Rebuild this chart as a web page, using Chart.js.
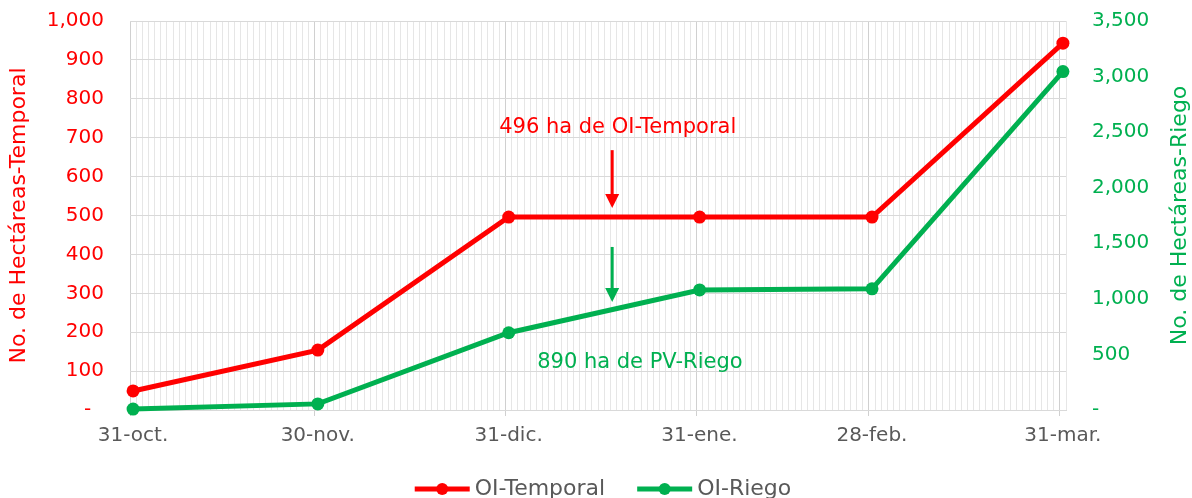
<!DOCTYPE html>
<html>
<head>
<meta charset="utf-8">
<script src="https://cdn.jsdelivr.net/npm/chart.js@4.4.0/dist/chart.umd.min.js"></script>
<style>
  html, body { margin: 0; padding: 0; background: #fff; }
</style>
</head>
<body>
<canvas id="myChart" width="1192" height="498"></canvas>
<script>
// days counted from 31-oct (day 0)
const dayLabels = ['31-oct.', '30-nov.', '31-dic.', '31-ene.', '28-feb.', '31-mar.'];
const dayIndex = [0, 30, 61, 92, 120, 151];
const temporal = [49, 154, 496, 496, 496, 943];
const riego = [8, 55, 695, 1080, 1090, 3045];
const seriesNames = ['OI-Temporal', 'OI-Riego'];

const RED = '#ff0000';
const GREEN = '#00b050';
const FONT = "'DejaVu Sans', sans-serif";

// callouts, in data units of the axis they belong to
const callouts = [
    { text: '496 ha de OI-Temporal', axis: 'yL', color: RED, tx: 79.2, ty: 727, ax: 78.3, from: 668, to: 519 },
    { text: '890 ha de PV-Riego', axis: 'yR', color: GREEN, tx: 82.8, ty: 423, ax: 78.3, from: 1467, to: 972 }
];

function fmt(v) {
    return v === 0 ? '-  ' : v.toLocaleString('en-US');
}

const extras = {
    id: 'extras',
    afterDraw(chart) {
        const ctx = chart.ctx;
        const x = chart.scales.x;
        const area = chart.chartArea;
        ctx.save();

        // callouts with arrows
        callouts.forEach(c => {
            const y = chart.scales[c.axis];
            ctx.fillStyle = c.color;
            ctx.strokeStyle = c.color;
            ctx.font = `21px ${FONT}`;
            ctx.textAlign = 'center';
            ctx.textBaseline = 'middle';
            ctx.fillText(c.text, x.getPixelForValue(c.tx), y.getPixelForValue(c.ty));

            const px = x.getPixelForValue(c.ax);
            const y1 = y.getPixelForValue(c.from);
            const y2 = y.getPixelForValue(c.to);
            ctx.lineWidth = 3;
            ctx.beginPath();
            ctx.moveTo(px, y1);
            ctx.lineTo(px, y2 - 12);
            ctx.stroke();
            ctx.beginPath();
            ctx.moveTo(px - 7, y2 - 14);
            ctx.lineTo(px + 7, y2 - 14);
            ctx.lineTo(px, y2);
            ctx.closePath();
            ctx.fill();
        });

        // right axis title, reading bottom to top
        ctx.save();
        ctx.translate(1180, (area.top + area.bottom) / 2);
        ctx.rotate(-Math.PI / 2);
        ctx.fillStyle = GREEN;
        ctx.font = `22px ${FONT}`;
        ctx.textAlign = 'center';
        ctx.textBaseline = 'middle';
        ctx.fillText('No. de Hectáreas-Riego', 0, 0);
        ctx.restore();

        // legend: line with marker, then label
        ctx.font = `22px ${FONT}`;
        const lineW = 55, gap = 5, itemGap = 32, ly = 489;
        const widths = chart.data.datasets.map(d => lineW + gap + ctx.measureText(d.label).width);
        const total = widths.reduce((a, b) => a + b, 0) + itemGap * (widths.length - 1);
        let lx = (area.left + area.right) / 2 + 5 - total / 2;
        chart.data.datasets.forEach((d, i) => {
            ctx.strokeStyle = d.borderColor;
            ctx.fillStyle = d.borderColor;
            ctx.lineWidth = 5;
            ctx.beginPath();
            ctx.moveTo(lx, ly);
            ctx.lineTo(lx + lineW, ly);
            ctx.stroke();
            ctx.beginPath();
            ctx.arc(lx + lineW / 2, ly, 6, 0, Math.PI * 2);
            ctx.fill();
            ctx.fillStyle = '#595959';
            ctx.textAlign = 'left';
            ctx.textBaseline = 'middle';
            ctx.fillText(d.label, lx + lineW + gap, ly);
            lx += widths[i] + itemGap;
        });
        ctx.restore();
    }
};

function fitY(width) {
    return s => {
        s.width = width;
        s.paddingTop = 21;
        s.paddingBottom = 0;
    };
}

const chartCanvas = document.getElementById('myChart');
new Chart(chartCanvas.getContext('2d'), {
    type: 'line',
    data: {
        datasets: [
            {
                label: seriesNames[0],
                data: dayIndex.map((d, i) => ({ x: d + 0.5, y: temporal[i] })),
                yAxisID: 'yL',
                borderColor: RED,
                backgroundColor: RED,
                pointBackgroundColor: RED,
                borderWidth: 5,
                pointRadius: 6.5,
                pointBorderWidth: 0,
                clip: false
            },
            {
                label: seriesNames[1],
                data: dayIndex.map((d, i) => ({ x: d + 0.5, y: riego[i] })),
                yAxisID: 'yR',
                borderColor: GREEN,
                backgroundColor: GREEN,
                pointBackgroundColor: GREEN,
                borderWidth: 5,
                pointRadius: 6.5,
                pointBorderWidth: 0,
                clip: false
            }
        ]
    },
    options: {
        responsive: false,
        animation: false,
        layout: { padding: 0 },
        plugins: {
            legend: { display: false },
            tooltip: { enabled: false }
        },
        scales: {
            x: {
                type: 'linear',
                min: 0,
                max: 152,
                afterBuildTicks: s => {
                    s.ticks = Array.from({ length: 153 }, (_, i) => ({ value: i }));
                },
                afterFit: s => { s.height = 88; },
                ticks: {
                    autoSkip: false,
                    maxRotation: 0,
                    labelOffset: 3,
                    padding: 8,
                    color: '#595959',
                    font: { family: FONT, size: 20 },
                    callback: v => {
                        const k = dayIndex.indexOf(v);
                        return k >= 0 ? dayLabels[k] : '';
                    }
                },
                grid: {
                    color: c => dayIndex.includes(c.tick.value) ? '#d0d0d0' : '#e6e6e6',
                    tickColor: c => dayIndex.includes(c.tick.value) ? '#d0d0d0' : 'rgba(0,0,0,0)',
                    tickLength: 6,
                    lineWidth: 1
                },
                border: { color: '#d9d9d9' }
            },
            yL: {
                position: 'left',
                min: 0,
                max: 1000,
                afterFit: fitY(130),
                ticks: {
                    stepSize: 100,
                    padding: 26,
                    color: RED,
                    font: { family: FONT, size: 20 },
                    callback: fmt
                },
                grid: { color: '#d9d9d9', drawTicks: false },
                border: { display: false },
                title: {
                    display: true,
                    text: 'No. de Hectáreas-Temporal',
                    color: RED,
                    font: { family: FONT, size: 22 },
                    padding: { top: 6, bottom: 0 }
                }
            },
            yR: {
                position: 'right',
                min: 0,
                max: 3500,
                afterFit: fitY(126),
                ticks: {
                    stepSize: 500,
                    padding: 26,
                    color: GREEN,
                    font: { family: FONT, size: 20 },
                    callback: fmt
                },
                grid: { drawOnChartArea: false, drawTicks: false },
                border: { display: false }
            }
        }
    },
    plugins: [extras]
});
</script>
</body>
</html>
